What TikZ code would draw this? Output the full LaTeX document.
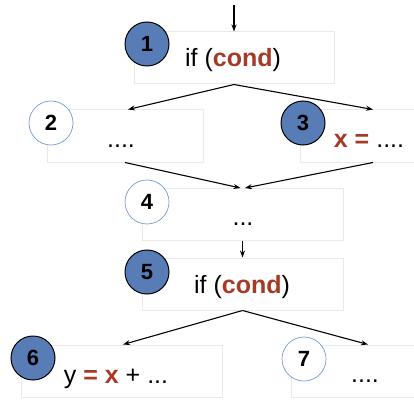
\documentclass[tikz,border=0pt]{standalone}
\usepackage{fontspec}
\setmainfont{Liberation Sans}
\usetikzlibrary{arrows.meta}
\definecolor{codered}{RGB}{166,58,36}
\definecolor{fillblue}{RGB}{88,124,181}
\definecolor{ringblue}{RGB}{120,155,210}
\definecolor{boxline}{RGB}{236,234,224}
\tikzset{
  blk/.style={draw=boxline, line width=1pt, minimum height=52pt, inner sep=0pt},
  numfull/.style={circle, draw=black, line width=1pt, fill=fillblue, minimum size=44pt, inner sep=0pt, font=\fontsize{22}{22}\selectfont\bfseries},
  numempty/.style={circle, draw=ringblue, line width=0.7pt, fill=white, minimum size=44pt, inner sep=0pt, font=\fontsize{22}{22}\selectfont\bfseries},
  code/.style={anchor=base, inner sep=0pt, font=\fontsize{25}{25}\selectfont},
  flow/.style={-{Stealth[length=7pt,width=5pt]}, line width=1.1pt},
}
\newcommand{\rd}[1]{\textcolor{codered}{\bfseries #1}}
\begin{document}
\begin{tikzpicture}[x=1pt,y=-1pt]
\clip (0,0) rectangle (414,414);
\fill[white] (0,0) rectangle (414,414);
% boxes
\node[blk, minimum width=200pt] (b1) at (234,58) {};
\node[blk, minimum width=156pt] (b2) at (125,136) {};
\node[blk, minimum width=146pt] (b3) at (373,136) {};
\node[blk, minimum width=201pt] (b4) at (242.5,214.5) {};
\node[blk, minimum width=201pt] (b5) at (242.5,284) {};
\node[blk, minimum width=201pt] (b6) at (121.5,371) {};
\node[blk, minimum width=154pt] (b7) at (368,371) {};
% texts
\node[code] (t1) at (233,67) {if (\rd{cond})};
\node[code] (t2) at (121,147) {....};
\node[code] (t3) at (369,147) {\rd{x =} ....};
\node[code] (t4) at (243,225) {...};
\node[code] (t5) at (242,293) {if (\rd{cond})};
\node[code] (t6) at (116,383) {y \rd{=} \rd{x} + ...};
\node[code] (t7) at (365,382) {....};
% numbered circles
\node[numfull] (c1) at (147,44) {1};
\node[numempty] (c2) at (51,123) {2};
\node[numfull] (c3) at (303,123) {3};
\node[numempty] (c4) at (147,202) {4};
\node[numfull] (c5) at (147,272) {5};
\node[numfull] (c6) at (33,358) {6};
\node[numempty] (c7) at (304,359) {7};
% arrows
\coordinate (start) at (234,5);
\draw[flow] (start) -- (b1.north);
\draw[flow] (b1.south) -- ([xshift=3pt]b2.north);
\draw[flow] (b1.south) -- (b3.north);
\draw[flow] (b2.south) -- ([xshift=-2pt]b4.north);
\draw[flow] (b3.south) -- ([xshift=2.5pt]b4.north);
\draw[flow] (b4.south) -- (b5.north);
\draw[flow] (b5.south) -- ([xshift=1.5pt]b6.north);
\draw[flow] (b5.south) -- (b7.north);
\end{tikzpicture}
\end{document}
